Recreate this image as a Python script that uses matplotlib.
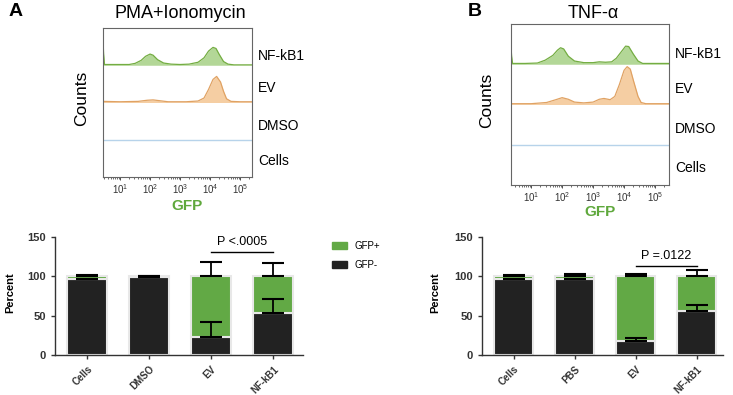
import numpy as np
import matplotlib.pyplot as plt
from matplotlib.patches import Patch
from matplotlib.ticker import LogLocator, NullFormatter

plt.rcParams['font.family'] = ['Liberation Sans', 'DejaVu Sans']

# ---- flow histograms: log10(GFP) and height as fraction of one lane ----
a_nfkb_x = [0.43, 0.45, 0.48, 0.8, 1.3, 1.5, 1.7, 1.85, 2.0, 2.1, 2.25, 2.45, 2.7, 3.0,
            3.3, 3.6, 3.8, 3.95, 4.1, 4.2, 4.3, 4.45, 4.6, 4.8, 5.4]
a_nfkb_h = [0.70, 0.30, 0.02, 0.02, 0.02, 0.05, 0.13, 0.24, 0.30, 0.27, 0.15, 0.06, 0.03, 0.02,
            0.03, 0.08, 0.20, 0.38, 0.48, 0.45, 0.30, 0.10, 0.03, 0.01, 0.01]
a_ev_x = [0.43, 1.0, 1.6, 1.9, 2.1, 2.3, 2.6, 3.2, 3.6, 3.8, 3.95, 4.1, 4.22, 4.35,
          4.45, 4.55, 4.7, 5.0, 5.4]
a_ev_h = [0.03, 0.02, 0.03, 0.06, 0.07, 0.05, 0.02, 0.02, 0.04, 0.12, 0.35, 0.62, 0.70, 0.55,
          0.30, 0.10, 0.03, 0.02, 0.02]

b_nfkb_x = [0.35, 0.37, 0.40, 0.8, 1.2, 1.45, 1.7, 1.85, 1.95, 2.05, 2.2, 2.4, 2.7, 3.0,
            3.2, 3.4, 3.6, 3.75, 3.9, 4.05, 4.15, 4.3, 4.45, 4.6, 5.45]
b_nfkb_h = [0.44, 0.20, 0.02, 0.02, 0.03, 0.10, 0.22, 0.35, 0.41, 0.38, 0.20, 0.08, 0.04, 0.04,
            0.06, 0.05, 0.06, 0.15, 0.30, 0.45, 0.44, 0.25, 0.08, 0.02, 0.02]
b_ev_x = [0.35, 1.0, 1.5, 1.8, 2.0, 2.2, 2.4, 2.7, 3.0, 3.2, 3.35, 3.55, 3.7, 3.85,
          4.0, 4.1, 4.2, 4.3, 4.45, 4.55, 4.7, 5.45]
b_ev_h = [0.02, 0.02, 0.05, 0.12, 0.17, 0.13, 0.06, 0.04, 0.06, 0.13, 0.15, 0.12, 0.20, 0.50,
          0.85, 0.94, 0.88, 0.60, 0.20, 0.05, 0.02, 0.02]

lane_names = ['Cells', 'DMSO', 'EV', 'NF-kB1']

# ---- stacked bars (percent) ----
a_groups = ['Cells', 'DMSO', 'EV', 'NF-kB1']
a_neg = [97, 99, 23, 54]
a_neg_err = [0, 0, 19, 17]
a_pos = [3, 1, 77, 46]
a_pos_err = [1.5, 0, 18, 17]

b_groups = ['Cells', 'PBS', 'EV', 'NF-kB1']
b_neg = [97, 96, 18, 56]
b_neg_err = [0, 0, 4, 8]
b_pos = [3, 4, 82, 44]
b_pos_err = [1.5, 3, 3, 8]

GREEN = '#62a945'
BLACK = '#222222'


def px(x, y):
    return x / 733.0, 1 - y / 395.0


def hist_panel(ax, traces, xlim):
    for base, (xs, hs, line, fill) in traces.items():
        xv = 10 ** np.array(xs)
        yv = base + np.array(hs)
        ax.fill_between(xv, base, yv, color=fill, lw=0)
        ax.plot(xv, yv, color=line, lw=0.9)
    # DMSO lane: flat trace
    ax.plot([xlim[0], xlim[1]], [1.0, 1.0], color='#b7d3ea', lw=1.0)
    ax.set_xscale('log')
    ax.set_xlim(*xlim)
    ax.set_ylim(0, 4)
    ax.set_yticks([])
    ax.xaxis.set_minor_locator(LogLocator(base=10, subs=np.arange(2, 10), numticks=20))
    ax.xaxis.set_minor_formatter(NullFormatter())
    ax.set_xticks([1e1, 1e2, 1e3, 1e4, 1e5])
    ax.tick_params(axis='x', which='major', length=2.2, width=0.6, labelsize=7, pad=1.2, colors='#333')
    ax.tick_params(axis='x', which='minor', length=1.3, width=0.5, colors='#333')
    for s in ax.spines.values():
        s.set_color('#666')
        s.set_linewidth(0.8)
    ypos = [0.42, 1.38, 2.38, 3.25]
    for name, y in zip(lane_names, ypos):
        ax.text(1.04, y / 4, name, transform=ax.transAxes, fontsize=10, va='center', ha='left')


def bar_panel(ax, groups, neg, neg_err, pos, pos_err, xlim):
    x = np.arange(len(groups))
    ax.bar(x, neg, width=0.64, color=BLACK, edgecolor='#e8e8e8', lw=1.5, zorder=2)
    ax.bar(x, pos, width=0.64, bottom=neg, color=GREEN, edgecolor='#e8e8e8', lw=1.5, zorder=2)
    tops = np.array(neg) + np.array(pos)
    ax.errorbar(x, tops, yerr=[np.zeros(len(x)), pos_err], fmt='none', ecolor='k',
                elinewidth=1.3, capsize=8, capthick=1.5, zorder=3)
    ax.errorbar(x, neg, yerr=[np.zeros(len(x)), neg_err], fmt='none', ecolor='k',
                elinewidth=1.3, capsize=8, capthick=1.5, zorder=3)
    ax.set_xlim(*xlim)
    ax.set_ylim(0, 150)
    ax.set_yticks([0, 50, 100, 150])
    ax.set_xticks(x)
    ax.set_xticklabels(groups, rotation=45, ha='right', rotation_mode='anchor',
                       fontsize=7, fontweight='bold')
    for t in ax.get_yticklabels():
        t.set_fontweight('bold')
        t.set_fontsize(8)
    ax.spines['top'].set_visible(False)
    ax.spines['right'].set_visible(False)
    for s in ('left', 'bottom'):
        ax.spines[s].set_linewidth(1.0)
        ax.spines[s].set_color('#333')
    ax.tick_params(length=3, width=1.0, colors='#333')


fig = plt.figure(figsize=(7.33, 3.95), dpi=100)

# panel A histogram
axA = fig.add_axes([103 / 733, 1 - 177 / 395, 149 / 733, 149 / 395])
hist_panel(axA, {3: (a_nfkb_x, a_nfkb_h, '#74ad42', '#b3d797'),
                 2: (a_ev_x, a_ev_h, '#e0a263', '#f5cea3')},
           (10 ** 0.43, 10 ** 5.4))
# panel B histogram
axB = fig.add_axes([511 / 733, 1 - 185 / 395, 158 / 733, 161 / 395])
hist_panel(axB, {3: (b_nfkb_x, b_nfkb_h, '#74ad42', '#b3d797'),
                 2: (b_ev_x, b_ev_h, '#e0a263', '#f5cea3')},
           (10 ** 0.35, 10 ** 5.45))

fig.text(*px(180, 13), 'PMA+Ionomycin', fontsize=13, ha='center', va='center')
fig.text(*px(593, 13), 'TNF-α', fontsize=13, ha='center', va='center')
fig.text(*px(82, 98), 'Counts', fontsize=12.5, rotation=90, ha='center', va='center')
fig.text(*px(487, 100), 'Counts', fontsize=12.5, rotation=90, ha='center', va='center')
fig.text(*px(187, 206), 'GFP', fontsize=11, fontweight='bold', color='#5fa83c',
         ha='center', va='center')
fig.text(*px(600, 212), 'GFP', fontsize=11, fontweight='bold', color='#5fa83c',
         ha='center', va='center')
fig.text(*px(16, 12), 'A', fontsize=14, fontweight='bold', ha='center', va='center')
fig.text(*px(475, 12), 'B', fontsize=14, fontweight='bold', ha='center', va='center')

# bar panels
axC = fig.add_axes([55 / 733, 1 - 355 / 395, 248 / 733, 118 / 395])
bar_panel(axC, a_groups, a_neg, a_neg_err, a_pos, a_pos_err, (-0.52, 3.48))
axC.plot([2, 3], [131, 131], color='k', lw=1.0)
axC.text(2.5, 136, 'P <.0005', ha='center', va='bottom', fontsize=9)
axC.legend([Patch(color=GREEN), Patch(color=BLACK)], ['GFP+', 'GFP-'],
           loc='upper left', bbox_to_anchor=(1.08, 1.04), frameon=False, fontsize=7,
           handlelength=1.6, handleheight=0.8, labelspacing=0.9)
fig.text(*px(10, 293), 'Percent', fontsize=8, fontweight='bold', rotation=90,
         ha='center', va='center')

axD = fig.add_axes([482 / 733, 1 - 355 / 395, 241 / 733, 118 / 395])
bar_panel(axD, b_groups, b_neg, b_neg_err, b_pos, b_pos_err, (-0.525, 3.43))
axD.plot([2, 3], [113, 113], color='k', lw=1.0)
axD.text(2.5, 118, 'P =.0122', ha='center', va='bottom', fontsize=9)
fig.text(*px(435, 293), 'Percent', fontsize=8, fontweight='bold', rotation=90,
         ha='center', va='center')

fig.savefig('out.png', dpi=100)
